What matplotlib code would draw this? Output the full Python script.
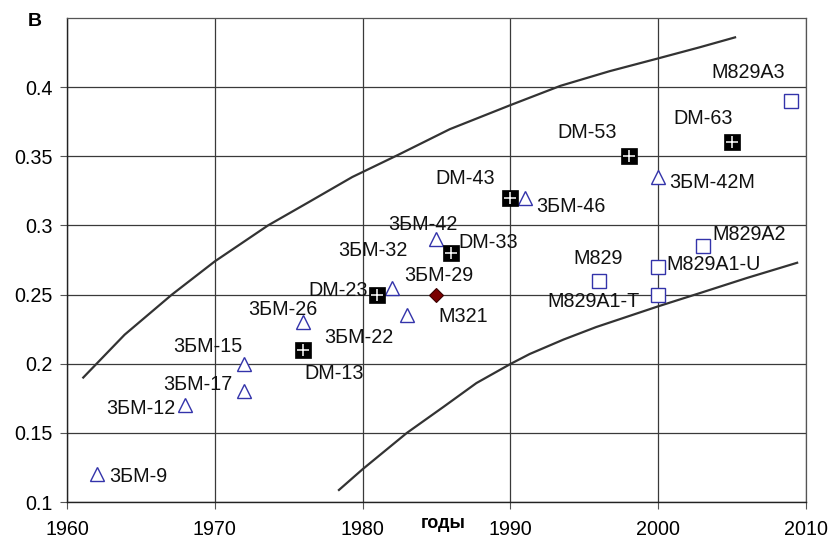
import matplotlib
matplotlib.use("Agg")
import matplotlib.pyplot as plt
from matplotlib.ticker import FormatStrFormatter

plt.rcParams['font.family'] = ['Liberation Sans', 'DejaVu Sans']

# ---- data ----
tri_years = [1962, 1968, 1972, 1972, 1976, 1982, 1983, 1985, 1991, 2000]
tri_vals = [0.12, 0.17, 0.20, 0.18, 0.23, 0.255, 0.235, 0.29, 0.32, 0.335]
tri_labels = ["3БМ-9", "3БМ-12", "3БМ-15", "3БМ-17", "3БМ-26", "3БМ-32",
              "3БМ-22", "3БМ-42", "3БМ-46", "3БМ-42M"]

dm_years = [1976, 1981, 1986, 1990, 1998, 2005]
dm_vals = [0.21, 0.25, 0.28, 0.32, 0.35, 0.36]
dm_labels = ["DM-13", "DM-23", "DM-33", "DM-43", "DM-53", "DM-63"]

m321_years = [1985]
m321_vals = [0.25]
m321_labels = ["M321"]
m321_extra_labels = ["3БМ-29"]

sq_years = [1996, 2000, 2000, 2003, 2009]
sq_vals = [0.26, 0.25, 0.27, 0.285, 0.39]
sq_labels = ["M829", "M829A1-T", "M829A1-U", "M829A2", "M829A3"]

upper_years = [1961.1, 1963.9, 1967.1, 1970.0, 1973.6, 1976.3, 1979.3, 1982.4,
               1985.9, 1990.0, 1993.4, 1996.7, 2000.0, 2002.8, 2005.2]
upper_vals = [0.190, 0.221, 0.250, 0.274, 0.300, 0.3165, 0.335, 0.351,
              0.3696, 0.387, 0.401, 0.4115, 0.4208, 0.4288, 0.436]

lower_years = [1978.4, 1980.0, 1983.0, 1985.5, 1987.7, 1990.0, 1991.3, 1993.6,
               1995.8, 2000.0, 2002.8, 2006.0, 2009.4]
lower_vals = [0.1087, 0.1237, 0.150, 0.169, 0.186, 0.1998, 0.207, 0.2175,
              0.2265, 0.2415, 0.251, 0.262, 0.273]

x_ticks = [1960, 1970, 1980, 1990, 2000, 2010]
y_ticks = [0.1, 0.15, 0.2, 0.25, 0.3, 0.35, 0.4]

# ---- label placement (pixel offsets from the point, alignment) ----
label_style = {
    "3БМ-9": (13, -2, 'left'),
    "3БМ-12": (-10, -3, 'right'),
    "3БМ-15": (-2, 17, 'right'),
    "3БМ-17": (-12, 7, 'right'),
    "3БМ-26": (14, 13, 'right'),
    "3БМ-32": (15, 37, 'right'),
    "3БМ-22": (-13, -22, 'right'),
    "3БМ-42": (-14, 15, 'center'),
    "3БМ-46": (11, -9, 'left'),
    "3БМ-42M": (11, -5, 'left'),
    "DM-13": (1, -24, 'left'),
    "DM-23": (-10, 4, 'right'),
    "DM-33": (7, 11, 'left'),
    "DM-43": (-45, 19, 'center'),
    "DM-53": (-42, 24, 'center'),
    "DM-63": (-29, 24, 'center'),
    "M321": (2, -22, 'left'),
    "3БМ-29": (2, 19, 'center'),
    "M829": (-1, 22, 'center'),
    "M829A1-T": (-19, -7, 'right'),
    "M829A1-U": (8, 2, 'left'),
    "M829A2": (10, 12, 'left'),
    "M829A3": (-43, 28, 'center'),
}

FS = 14.2

W, H, DPI = 829, 539, 100
fig = plt.figure(figsize=(W / DPI, H / DPI), dpi=DPI)
ax = fig.add_axes([67 / W, 1 - 502 / H, (806 - 67) / W, (502 - 18) / H])

ax.set_xlim(1960, 2010)
ax.set_ylim(0.1, 0.45)
ax.set_xticks(x_ticks)
ax.set_yticks(y_ticks)
ax.yaxis.set_major_formatter(FormatStrFormatter('%g'))
ax.tick_params(axis='both', direction='out', length=5, width=0.8, color='#555555',
               labelsize=FS)
ax.tick_params(axis='x', pad=8)
ax.tick_params(axis='y', pad=5)
ax.grid(True, color='#3a3a3a', linewidth=0.9)
ax.set_axisbelow(True)
for side in ['left', 'bottom']:
    ax.spines[side].set_color('#222222')
    ax.spines[side].set_linewidth(1.0)
for side in ['top', 'right']:
    ax.spines[side].set_color('#555555')
    ax.spines[side].set_linewidth(0.9)

line_color = '#333333'
ax.plot(upper_years, upper_vals, color=line_color, lw=1.6, zorder=3,
        solid_joinstyle='round')
ax.plot(lower_years, lower_vals, color=line_color, lw=1.6, zorder=3,
        solid_joinstyle='round')

blue = '#3333aa'
ax.plot(tri_years, tri_vals, linestyle='none', marker='^', markersize=10.5,
        markerfacecolor='white', markeredgecolor=blue, markeredgewidth=1.0, zorder=4)
ax.plot(sq_years, sq_vals, linestyle='none', marker='s', markersize=10,
        markerfacecolor='white', markeredgecolor=blue, markeredgewidth=1.0, zorder=4)
ax.plot(dm_years, dm_vals, linestyle='none', marker='s', markersize=12,
        markerfacecolor='black', markeredgecolor='black', markeredgewidth=0.5, zorder=5)
ax.plot(dm_years, dm_vals, linestyle='none', marker='+', markersize=8,
        markeredgecolor='white', markeredgewidth=1.1, zorder=6)
ax.plot(m321_years, m321_vals, linestyle='none', marker='D', markersize=7,
        markerfacecolor='#7a0000', markeredgecolor='#3a0000', markeredgewidth=0.8, zorder=5)


def put_labels(xs, ys, labels):
    for x, y, lab in zip(xs, ys, labels):
        dx, dy, ha = label_style[lab]
        ax.annotate(lab, (x, y), xytext=(dx, dy), textcoords='offset pixels',
                    ha=ha, va='center', fontsize=FS, color='#111111', zorder=7)


put_labels(tri_years, tri_vals, tri_labels)
put_labels(dm_years, dm_vals, dm_labels)
put_labels(sq_years, sq_vals, sq_labels)
put_labels(m321_years, m321_vals, m321_labels)
put_labels(m321_years, m321_vals, m321_extra_labels)

fig.text(35 / W, 1 - 21 / H, "В", ha='center', va='center', fontsize=14,
         fontweight='bold')
fig.text(443 / W, 1 - 524 / H, "годы", ha='center', va='center', fontsize=13,
         fontweight='bold')

fig.savefig("out.png", dpi=DPI)
